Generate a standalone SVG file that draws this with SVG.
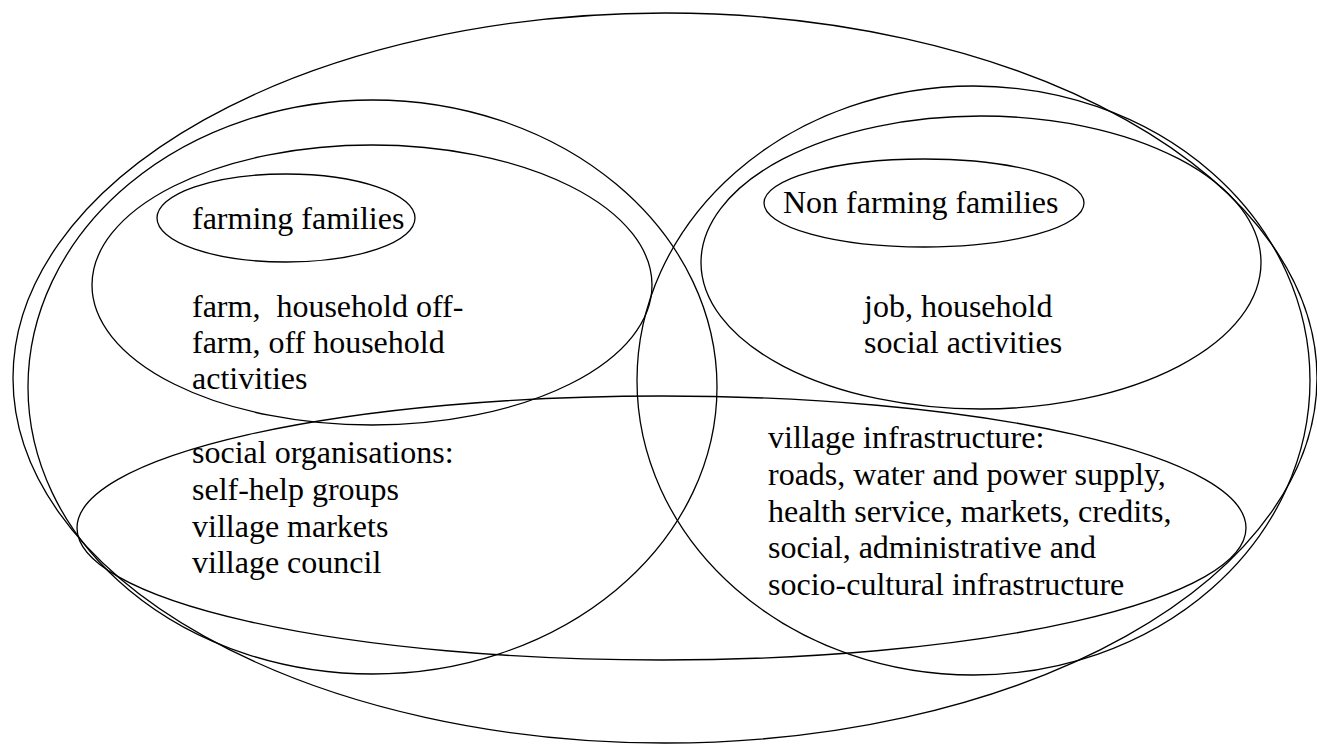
<svg xmlns="http://www.w3.org/2000/svg" width="1317" height="744" viewBox="0 0 1317 744">
<style>
.sh{fill:none;stroke:#000;stroke-width:1.3}
.t{font-family:"Liberation Serif","Times New Roman",serif;font-size:32px;fill:#000;white-space:pre}
</style>
<rect width="1317" height="744" fill="#fff"/>
<g id="village">
<ellipse class="sh" cx="665" cy="378" rx="652" ry="365"/>
</g>
<g id="farming-domain">
<ellipse class="sh" cx="372.5" cy="387" rx="344.5" ry="287"/>
</g>
<g id="nonfarming-domain">
<ellipse class="sh" cx="973.5" cy="380.5" rx="336.5" ry="294.5"/>
</g>
<g id="farming-activities">
<ellipse class="sh" cx="372" cy="285" rx="280" ry="140"/>
<text class="t" x="192" y="317" xml:space="preserve">farm,  household off-</text>
<text class="t" x="192" y="353">farm, off household</text>
<text class="t" x="192" y="389">activities</text>
</g>
<g id="nonfarming-activities">
<ellipse class="sh" cx="981" cy="262.5" rx="280" ry="146.5"/>
<text class="t" x="864" y="317">job, household</text>
<text class="t" x="864" y="353">social activities</text>
</g>
<g id="infrastructure">
<ellipse class="sh" cx="661.5" cy="528" rx="584.5" ry="132"/>
</g>
<g id="farming-families">
<ellipse class="sh" cx="286" cy="218" rx="129" ry="44"/>
<text class="t" x="192" y="229">farming families</text>
</g>
<g id="nonfarming-families">
<ellipse class="sh" cx="924" cy="203" rx="160" ry="44"/>
<text class="t" x="783" y="213">Non farming families</text>
</g>
<g id="social-organisations">
<text class="t" x="192" y="463">social organisations:</text>
<text class="t" x="192" y="500">self-help groups</text>
<text class="t" x="192" y="537">village markets</text>
<text class="t" x="192" y="573">village council</text>
</g>
<g id="village-infrastructure">
<text class="t" x="768" y="448">village infrastructure:</text>
<text class="t" x="768" y="485">roads, water and power supply,</text>
<text class="t" x="768" y="522">health service, markets, credits,</text>
<text class="t" x="768" y="558">social, administrative and</text>
<text class="t" x="768" y="595">socio-cultural infrastructure</text>
</g>
</svg>
